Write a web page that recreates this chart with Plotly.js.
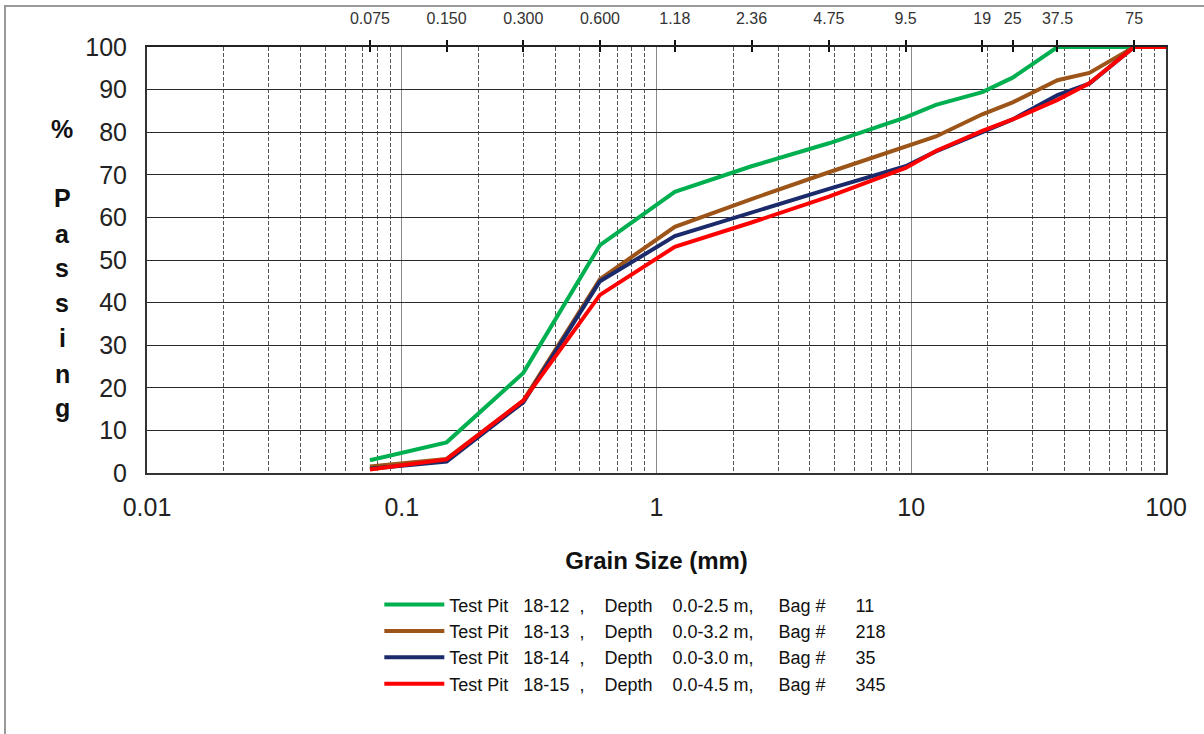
<!DOCTYPE html>
<html>
<head>
<meta charset="utf-8">
<script src="https://cdn.plot.ly/plotly-3.0.1.min.js"></script>
<style>
  html, body { margin: 0; padding: 0; background: #fff; }
  #wrap { position: relative; width: 1204px; height: 734px; overflow: hidden; }
  #chart { width: 1204px; height: 734px; }
  #frame { position: absolute; left: 4px; top: 5px; width: 1300px; height: 800px;
           border-left: 2px solid #999; border-top: 2px solid #999; pointer-events: none; }
</style>
</head>
<body>
<div id="wrap"><div id="chart"></div><div id="frame"></div></div>
<script>
// Sieve sizes (mm)
const sieveSizes = [0.075, 0.15, 0.3, 0.6, 1.18, 2.36, 4.75, 9.5, 12.5, 19, 25, 37.5, 50, 75];
const sieveSizesRed = [0.075, 0.15, 0.3, 0.6, 1.18, 2.36, 4.75, 9.5, 12.5, 19, 25, 37.5, 50, 75, 100];

// Percent passing
const tp1812 = [3.0, 7.2, 23.5, 53.5, 66.0, 72.0, 77.4, 83.5, 86.4, 89.4, 92.8, 100, 100, 100];
const tp1813 = [1.5, 3.3, 17.0, 45.5, 57.8, 64.3, 70.6, 76.5, 79.0, 84.2, 87.0, 92.2, 93.9, 100];
const tp1814 = [1.0, 2.7, 16.6, 45.0, 55.6, 61.2, 66.7, 72.0, 75.5, 80.0, 83.0, 88.7, 91.4, 100];
const tp1815 = [0.8, 3.2, 17.0, 41.8, 53.1, 58.8, 64.9, 71.6, 75.6, 80.3, 83.0, 87.6, 91.5, 100, 100];

const sp = n => "\u00a0".repeat(n);
const seriesNames = [
  "Test Pit" + sp(3) + "18-12" + sp(2) + "," + sp(4) + "Depth" + sp(4) + "0.0-2.5 m," + sp(5) + "Bag #" + sp(6) + "11",
  "Test Pit" + sp(3) + "18-13" + sp(2) + "," + sp(4) + "Depth" + sp(4) + "0.0-3.2 m," + sp(5) + "Bag #" + sp(6) + "218",
  "Test Pit" + sp(3) + "18-14" + sp(2) + "," + sp(4) + "Depth" + sp(4) + "0.0-3.0 m," + sp(5) + "Bag #" + sp(6) + "35",
  "Test Pit" + sp(3) + "18-15" + sp(2) + "," + sp(4) + "Depth" + sp(4) + "0.0-4.5 m," + sp(5) + "Bag #" + sp(6) + "345"
];
const seriesColors = ["#00B050", "#9C5418", "#1B2A6B", "#FF0000"];

// Top axis sieve labels
const topTickVals = [0.075, 0.150, 0.300, 0.600, 1.18, 2.36, 4.75, 9.5, 19, 25, 37.5, 75];
const topTickText = ["0.075", "0.150", "0.300", "0.600", "1.18", "2.36", "4.75", "9.5", "19", "25", "37.5", "75"];

// Bottom axis labels
const bottomTickVals = [0.01, 0.1, 1, 10, 100];
const bottomTickText = ["0.01", "0.1", "1", "10", "100"];

const yTitleLetters = ["%", "P", "a", "s", "s", "i", "n", "g"];
const yTitleLetterPx = [129, 198, 234, 268, 303, 338, 374, 408];

const FONT = "Liberation Sans, Arial, sans-serif";

const xs = [sieveSizes, sieveSizes, sieveSizes, sieveSizesRed];
const ys = [tp1812, tp1813, tp1814, tp1815];

const traces = ys.map((y, i) => ({
  x: xs[i], y: y, type: "scatter", mode: "lines", name: seriesNames[i],
  line: { color: seriesColors[i], width: 4 }, cliponaxis: false,
  xaxis: "x", yaxis: "y"
}));
// invisible companions so the top axes are drawn
traces.push({ x: sieveSizesRed, y: tp1815, type: "scatter", mode: "lines", xaxis: "x2", yaxis: "y",
  showlegend: false, hoverinfo: "skip", opacity: 0, line: { width: 0 } });
traces.push({ x: sieveSizesRed, y: tp1815, type: "scatter", mode: "lines", xaxis: "x3", yaxis: "y",
  showlegend: false, hoverinfo: "skip", opacity: 0, line: { width: 0 } });

const plotTop = 47, plotBottom = 473, plotLeft = 147, plotRight = 1166;
const annotations = yTitleLetters.map((ch, i) => ({
  text: ch, xref: "paper", yref: "paper",
  x: (62 - plotLeft) / (plotRight - plotLeft),
  y: (plotBottom - yTitleLetterPx[i]) / (plotBottom - plotTop),
  xanchor: "center", yanchor: "middle", showarrow: false,
  font: { family: FONT, size: 25, color: "#111", weight: "bold" }
}));

const layout = {
  width: 1204, height: 734,
  margin: { l: plotLeft, r: 1204 - plotRight, t: plotTop, b: 734 - plotBottom, pad: 0 },
  paper_bgcolor: "#fff", plot_bgcolor: "#fff",
  showlegend: true,
  legend: {
    x: 0.228, y: -0.266, xanchor: "left", yanchor: "top",
    font: { family: FONT, size: 18, color: "#111" },
    bgcolor: "rgba(0,0,0,0)", itemwidth: 60, tracegroupgap: 0
  },
  xaxis: {
    type: "log", range: [-2, 2],
    tickvals: bottomTickVals, ticktext: bottomTickText,
    ticks: "", ticklabelstandoff: 11,
    tickfont: { family: FONT, size: 25, color: "#222" },
    showgrid: true, gridcolor: "#8a8a8a", gridwidth: 1,
    minor: { dtick: "D1", showgrid: true, gridcolor: "#555", griddash: "4px,2px", gridwidth: 1, ticks: "" },
    showline: true, linecolor: "#333", linewidth: 2,
    zeroline: false,
    title: { text: "<b>Grain Size (mm)</b>", standoff: 32,
             font: { family: FONT, size: 24, color: "#111" } }
  },
  xaxis2: {
    type: "log", range: [-2, 2], overlaying: "x", side: "top", anchor: "y",
    tickvals: topTickVals, ticktext: topTickText,
    ticks: "outside", ticklen: 5, tickwidth: 2, tickcolor: "#111",
    ticklabelstandoff: 10,
    tickfont: { family: FONT, size: 16, color: "#333" },
    showgrid: false, zeroline: false,
    showline: true, linecolor: "#222", linewidth: 2
  },
  xaxis3: {
    type: "log", range: [-2, 2], overlaying: "x", side: "top", anchor: "y",
    tickvals: topTickVals, ticktext: topTickVals.map(() => ""),
    ticks: "inside", ticklen: 5, tickwidth: 2, tickcolor: "#111",
    showticklabels: false, showgrid: false, zeroline: false, showline: false
  },
  yaxis: {
    range: [0, 100], dtick: 10, tick0: 0,
    ticks: "", ticklabelstandoff: 13,
    tickfont: { family: FONT, size: 25, color: "#222" },
    showgrid: true, gridcolor: "#2a2a2a", gridwidth: 1,
    showline: true, linecolor: "#333", linewidth: 2, mirror: true,
    zeroline: false
  },
  annotations: annotations
};

Plotly.newPlot("chart", traces, layout, { displayModeBar: false, staticPlot: true });
</script>
</body>
</html>
